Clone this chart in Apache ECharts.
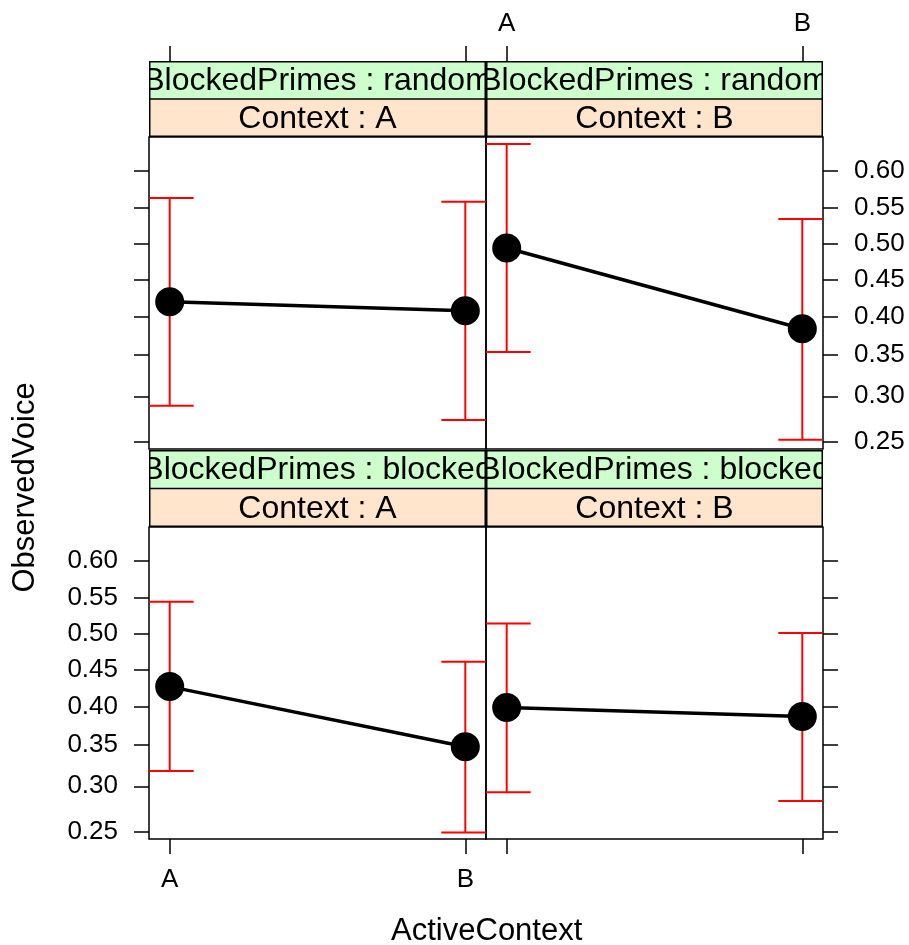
<!DOCTYPE html>
<html>
<head>
<meta charset="utf-8">
<script src="https://cdn.jsdelivr.net/npm/echarts@6/dist/echarts.min.js"></script>
<style>
html,body{margin:0;padding:0;background:#fff;}
#main{width:909px;height:945px;}
</style>
</head>
<body>
<div id="main"></div>
<script>
// x categories
var activeContext = ['A', 'B'];
// y tick labels (probability on a logit scale)
var yTicks = [0.25, 0.30, 0.35, 0.40, 0.45, 0.50, 0.55, 0.60];

// BlockedPrimes : random
var fitRandomA = [0.420, 0.408];
var lowerRandomA = [0.289, 0.273];
var upperRandomA = [0.563, 0.558];
var fitRandomB = [0.494, 0.384];
var lowerRandomB = [0.354, 0.252];
var upperRandomB = [0.635, 0.534];
// BlockedPrimes : blocked
var fitBlockedA = [0.427, 0.348];
var lowerBlockedA = [0.318, 0.249];
var upperBlockedA = [0.544, 0.461];
var fitBlockedB = [0.399, 0.387];
var lowerBlockedB = [0.293, 0.283];
var upperBlockedB = [0.514, 0.501];

var FONT = '"Liberation Sans", Arial, Helvetica, sans-serif';

function logit(p){ return Math.log(p / (1 - p)); }
function expit(v){ return 1 / (1 + Math.exp(-v)); }

// panel order: top-left, top-right, bottom-left, bottom-right
var panels = [
	{outer:'BlockedPrimes : random', inner:'Context : A', fit:fitRandomA, lower:lowerRandomA, upper:upperRandomA,
	 left:149, top:137, stripTop:61, xTop:true, xLbl:false, yPos:'left', yLbl:false},
	{outer:'BlockedPrimes : random', inner:'Context : B', fit:fitRandomB, lower:lowerRandomB, upper:upperRandomB,
	 left:486, top:137, stripTop:61, xTop:true, xLbl:true, yPos:'right', yLbl:true},
	{outer:'BlockedPrimes : blocked', inner:'Context : A', fit:fitBlockedA, lower:lowerBlockedA, upper:upperBlockedA,
	 left:149, top:527, stripTop:450, xTop:false, xLbl:true, yPos:'left', yLbl:true},
	{outer:'BlockedPrimes : blocked', inner:'Context : B', fit:fitBlockedB, lower:lowerBlockedB, upper:upperBlockedB,
	 left:486, top:527, stripTop:450, xTop:false, xLbl:false, yPos:'right', yLbl:false}
];

var PW = 337, PH = 312;
var XMIN = 0.93, XMAX = 2.07;
var grids = [], xAxes = [], yAxes = [], series = [];
var yTickVals = yTicks.map(logit);

function each(arr, fn){ for (var i = 0; i < arr.length; i++) fn(i, arr[i]); }

function xAxisFor(gridIndex, position, ticks, labels){
	return {
		type:'value', gridIndex:gridIndex, position:position, min:XMIN, max:XMAX,
		splitLine:{show:false},
		axisLine:{show:false, onZero:false},
		axisTick:{show:ticks, length:15, lineStyle:{color:'#000', width:1.5}, customValues:[1, 2]},
		axisLabel:{show:labels, customValues:[1, 2], margin:(position == 'top' ? 24 : 28), color:'#000', fontSize:26, fontFamily:FONT,
			formatter:function(v){ return activeContext[Math.round(v) - 1]; }}
	};
}

// plot panels
each(panels, function(i, p){
	grids.push({left:p.left, top:p.top, width:PW, height:PH, show:true,
		borderColor:'#000', borderWidth:1.5, backgroundColor:'rgba(0,0,0,0)', outerBoundsMode:'none'});
	// bottom row carries the bottom axis, top row's axis sits above its strips
	xAxes.push(xAxisFor(i, 'bottom', !p.xTop, !p.xTop && p.xLbl));
	yAxes.push({
		type:'value', gridIndex:i, position:p.yPos, min:-1.14, max:0.592,
		splitLine:{show:false},
		axisLine:{show:false, onZero:false},
		axisTick:{show:true, length:15, lineStyle:{color:'#000', width:1.5}, customValues:yTickVals},
		axisLabel:{show:p.yLbl, customValues:yTickVals, margin:31, color:'#000', fontSize:26, fontFamily:FONT,
			formatter:function(v){ return expit(v).toFixed(2); }}
	});
	// error bars
	series.push({
		type:'custom', xAxisIndex:i, yAxisIndex:i, clip:true, z:2, silent:true,
		data:activeContext.map(function(c, j){ return [j + 1, logit(p.lower[j]), logit(p.upper[j])]; }),
		renderItem:function(params, api){
			var lo = api.coord([api.value(0), api.value(1)]);
			var hi = api.coord([api.value(0), api.value(2)]);
			var st = {stroke:'#ff0000', lineWidth:2};
			return {type:'group', children:[
				{type:'line', shape:{x1:lo[0], y1:lo[1], x2:hi[0], y2:hi[1]}, style:st},
				{type:'line', shape:{x1:lo[0] - 24, y1:lo[1], x2:lo[0] + 24, y2:lo[1]}, style:st},
				{type:'line', shape:{x1:hi[0] - 24, y1:hi[1], x2:hi[0] + 24, y2:hi[1]}, style:st}
			]};
		}
	});
	// fitted line + points
	series.push({
		type:'line', xAxisIndex:i, yAxisIndex:i, z:3, silent:true,
		data:activeContext.map(function(c, j){ return [j + 1, logit(p.fit[j])]; }),
		symbol:'circle', symbolSize:29,
		itemStyle:{color:'#000'},
		lineStyle:{color:'#000', width:3.5}
	});
});

// strips (green outer, orange inner), clipped to panel width
each(panels, function(i, p){
	var k = panels.length + i;
	grids.push({left:p.left, top:p.stripTop, width:PW, height:p.top - p.stripTop, show:false, outerBoundsMode:'none'});
	xAxes.push(xAxisFor(k, 'top', p.xTop, p.xTop && p.xLbl));
	yAxes.push({type:'value', gridIndex:k, show:false, min:0, max:1});
	series.push({
		type:'custom', xAxisIndex:k, yAxisIndex:k, clip:true, silent:true,
		data:[[1.5, 0.5]],
		renderItem:function(params, api){
			var c = params.coordSys, h = c.height / 2;
			var ts = {fill:'#000', fontSize:32, fontFamily:FONT, align:'center', verticalAlign:'middle'};
			return {type:'group', children:[
				{type:'rect', shape:{x:c.x, y:c.y, width:c.width, height:h}, style:{fill:'#ccffcc'}},
				{type:'rect', shape:{x:c.x, y:c.y + h, width:c.width, height:h}, style:{fill:'#ffe5cc'}},
				{type:'text', x:c.x + c.width / 2, y:c.y + h / 2 + 1, style:Object.assign({text:p.outer}, ts)},
				{type:'text', x:c.x + c.width / 2, y:c.y + h * 1.5 + 1, style:Object.assign({text:p.inner}, ts)},
				{type:'line', shape:{x1:c.x, y1:c.y + h, x2:c.x + c.width, y2:c.y + h}, style:{stroke:'#000', lineWidth:1.5}},
				{type:'rect', shape:{x:c.x + 0.75, y:c.y + 0.75, width:c.width - 1.5, height:c.height - 1.5},
					style:{fill:'none', stroke:'#000', lineWidth:1.5}}
			]};
		}
	});
});

var myChart = echarts.init(document.getElementById('main'));
var option = {
	animation:false,
	backgroundColor:'#fff',
	grid:grids,
	xAxis:xAxes,
	yAxis:yAxes,
	series:series,
	graphic:[
		{type:'text', x:486.7, y:931, style:{text:'ActiveContext', fontSize:31, fontFamily:FONT, fill:'#000', align:'center', verticalAlign:'middle'}},
		{type:'text', x:25, y:487.5, rotation:Math.PI / 2, style:{text:'ObservedVoice', fontSize:31, fontFamily:FONT, fill:'#000', align:'center', verticalAlign:'middle'}}
	]
};
myChart.setOption(option);
</script>
</body>
</html>
